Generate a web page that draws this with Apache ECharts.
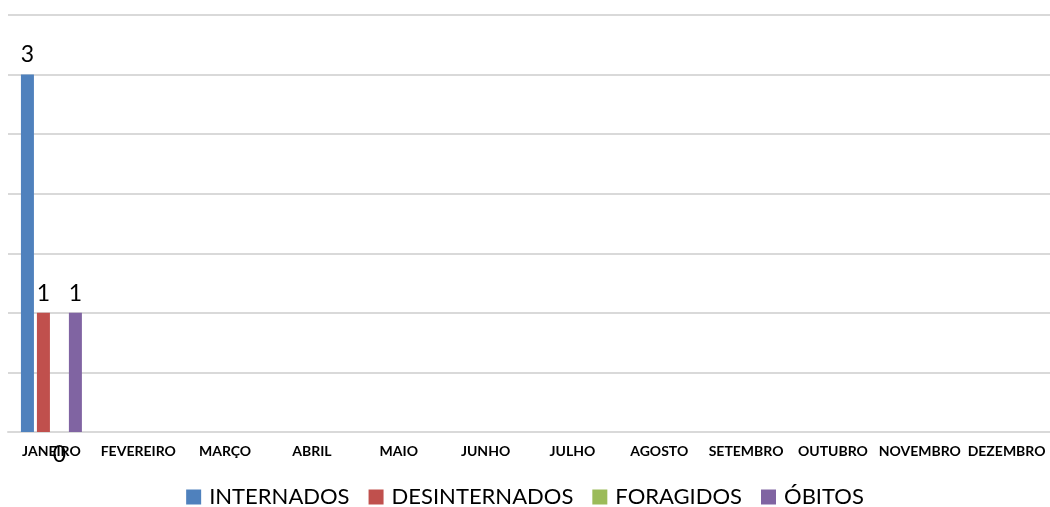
<!DOCTYPE html>
<html><head><meta charset="utf-8">
<script src="https://cdn.jsdelivr.net/npm/echarts@6/dist/echarts.min.js"></script>
<style>html,body{margin:0;padding:0;background:#fff}#c{width:1050px;height:507px}</style>
</head><body><div id="c"></div>
<script>
const categories = ['JANEIRO','FEVEREIRO','MARÇO','ABRIL','MAIO','JUNHO','JULHO','AGOSTO','SETEMBRO','OUTUBRO','NOVEMBRO','DEZEMBRO'];
const internados = [3];
const desinternados = [1];
const foragidos = [0];
const obitos = [1];
const seriesNames = ['INTERNADOS','DESINTERNADOS','FORAGIDOS','ÓBITOS'];
const colors = ['#4f81bd','#c0504d','#9bbb59','#8064a2'];

const chart = echarts.init(document.getElementById('c'));
const lbl = {show:true, position:'top', distance:8, color:'#000', fontSize:23, fontFamily:'Lato, Carlito, sans-serif'};
function mk(name, data, color, label){
  return {name, type:'bar', data, barWidth:13, barGap:'23%', itemStyle:{color}, label: label || lbl};
}
chart.setOption({
  animation:false,
  color: colors,
  grid:{left:8, right:0, top:15, bottom:75, containLabel:false},
  xAxis:{type:'category', data:categories,
    axisLine:{show:true, lineStyle:{color:'#d9d9d9', width:2}},
    axisTick:{show:false},
    axisLabel:{interval:0, margin:12, color:'#000', fontSize:14, fontWeight:'bold', fontFamily:'Lato, Carlito, sans-serif'}},
  yAxis:{type:'value', min:0, max:3.5, interval:0.5,
    axisLabel:{show:false}, axisLine:{show:false}, axisTick:{show:false},
    splitLine:{lineStyle:{color:'#d9d9d9', width:2}}},
  legend:{top:481, left:'center', itemWidth:15, itemHeight:15, itemGap:19,
    icon:'rect', textStyle:{color:'#000', fontSize:22, padding:[0,0,0,3], fontFamily:'Lato, Carlito, sans-serif'},
    data:seriesNames},
  series:[
    mk(seriesNames[0], internados, colors[0]),
    mk(seriesNames[1], desinternados, colors[1]),
    mk(seriesNames[2], foragidos, colors[2], Object.assign({}, lbl, {position:'insideBottom', distance:0, offset:[0,34]})),
    mk(seriesNames[3], obitos, colors[3])
  ]
});
</script></body></html>
